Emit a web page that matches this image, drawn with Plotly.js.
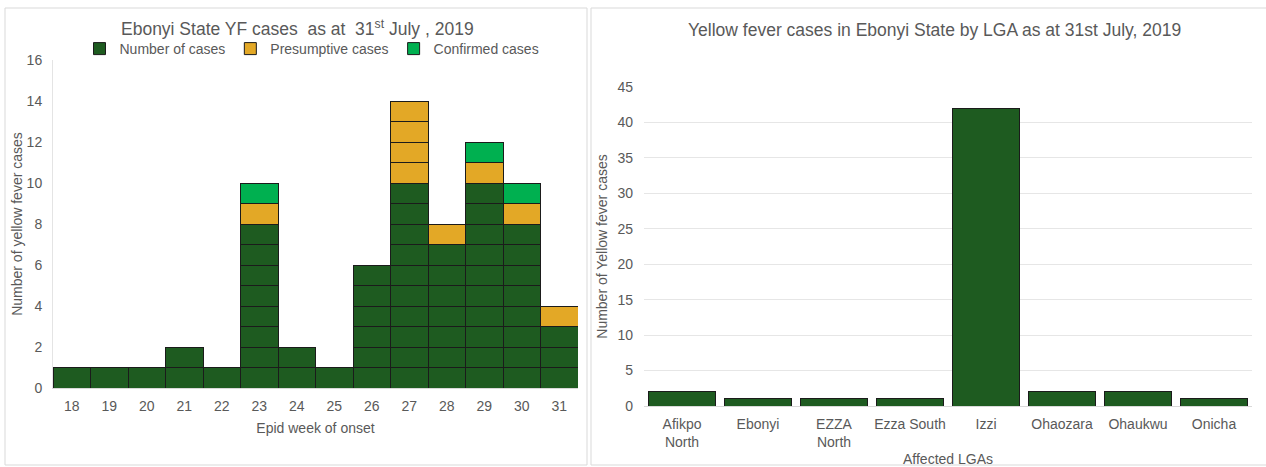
<!DOCTYPE html>
<html>
<head>
<meta charset="utf-8">
<script src="https://cdn.plot.ly/plotly-3.0.1.min.js"></script>
<style>html,body{margin:0;padding:0;background:#fff;}#chart{width:1266px;height:467px;}</style>
</head>
<body>
<div id="chart"></div>
<script>
// ---- Left chart data ----
const weeks = ['18','19','20','21','22','23','24','25','26','27','28','29','30','31'];
const numberOfCases = [1,1,1,2,1,8,2,1,6,10,7,10,8,3];
const presumptiveCases = [0,0,0,0,0,1,0,0,0,4,1,1,1,1];
const confirmedCases = [0,0,0,0,0,1,0,0,0,0,0,1,1,0];

// ---- Right chart data ----
const lgas = ['Afikpo<br>North','Ebonyi','EZZA<br>North','Ezza South','Izzi','Ohaozara','Ohaukwu','Onicha'];
const lgaCases = [2,1,1,1,42,2,2,1];

const DARK = '#1e5b20', GOLD = '#e3a826', BRIGHT = '#00b050';
const FONT = 'Liberation Sans, Arial, sans-serif';
const TXT = '#595959';
const FS = 14;

const traces = [];
function addUnits(values, name, color) {
  const maxV = Math.max(...values);
  for (let k = 1; k <= maxV; k++) {
    traces.push({
      type: 'bar', x: weeks,
      y: values.map(v => v >= k ? 1 : null),
      name: name, legendgroup: name, showlegend: k === 1,
      marker: {color: color, line: {color: '#1b1b1b', width: 1}},
      width: 1, xaxis: 'x', yaxis: 'y', hoverinfo: 'skip'
    });
  }
}
addUnits(numberOfCases, 'Number of cases', DARK);
addUnits(presumptiveCases, 'Presumptive cases', GOLD);
addUnits(confirmedCases, 'Confirmed cases', BRIGHT);

traces.push({
  type: 'bar', x: lgas, y: lgaCases, showlegend: false,
  marker: {color: DARK, line: {color: '#1b1b1b', width: 1}},
  width: 0.88, xaxis: 'x2', yaxis: 'y2'
});

const W = 1266, H = 467;
const px = v => v / W, py = v => 1 - v / H;

const layout = {
  width: W, height: H,
  margin: {l: 0, r: 0, t: 0, b: 0},
  paper_bgcolor: '#fff', plot_bgcolor: 'rgba(0,0,0,0)',
  barmode: 'stack', bargap: 0,
  font: {family: FONT, color: TXT, size: FS},
  showlegend: true,
  legend: {orientation: 'h', x: px(312), xanchor: 'center', y: py(49), yanchor: 'middle',
           font: {size: FS, color: TXT}, traceorder: 'normal', itemwidth: 30,
           itemclick: false, bgcolor: 'rgba(0,0,0,0)'},
  xaxis: {domain: [px(53), px(578)], type: 'category', showgrid: false,
          showline: true, linecolor: '#d9d9d9', ticks: '', tickfont: {size: FS, color: TXT},
          ticklabelstandoff: 5,
          title: {text: 'Epid week of onset', font: {size: FS, color: TXT}, standoff: 10}},
  yaxis: {domain: [py(388), py(60)], range: [0, 16], dtick: 2, showgrid: false,
          showline: true, linecolor: '#e4e4e4', ticks: '', zeroline: false,
          tickfont: {size: FS, color: TXT}, ticklabelstandoff: 7,
          title: {text: 'Number of yellow fever cases', font: {size: FS, color: TXT}, standoff: 0}},
  xaxis2: {domain: [px(644), px(1252)], type: 'category', showgrid: false,
           showline: true, linecolor: '#d9d9d9', ticks: '', tickfont: {size: FS, color: TXT},
           anchor: 'y2', ticklabelstandoff: 5,
           title: {text: 'Affected LGAs', font: {size: FS, color: TXT}, standoff: 6}},
  yaxis2: {domain: [py(406), py(87)], range: [0, 45], dtick: 5, showgrid: true,
           gridcolor: '#e6e6e6', showline: false, ticks: '', zeroline: false,
           tickfont: {size: FS, color: TXT}, anchor: 'x2', ticklabelstandoff: 10,
           title: {text: 'Number of Yellow fever cases', font: {size: FS, color: TXT}, standoff: 6}},
  shapes: [
    {type: 'rect', xref: 'paper', yref: 'paper', x0: px(5), x1: px(587), y0: py(465), y1: py(8),
     line: {color: '#d9d9d9', width: 1}},
    {type: 'rect', xref: 'paper', yref: 'paper', x0: px(591), x1: px(1272), y0: py(465), y1: py(8),
     line: {color: '#d9d9d9', width: 1}}
  ],
  annotations: [
    {xref: 'paper', yref: 'paper', x: px(297), y: py(28), xanchor: 'center', yanchor: 'middle',
     text: 'Ebonyi State YF cases  as at  31<sup>st</sup> July , 2019', showarrow: false,
     font: {size: 17.5, color: TXT, family: FONT}},
    {xref: 'paper', yref: 'paper', x: px(935), y: py(30), xanchor: 'center', yanchor: 'middle',
     text: 'Yellow fever cases in Ebonyi State by LGA as at 31st July, 2019', showarrow: false,
     font: {size: 17.5, color: TXT, family: FONT}}
  ]
};

Plotly.newPlot('chart', traces, layout, {displayModeBar: false, staticPlot: true});
</script>
</body>
</html>
